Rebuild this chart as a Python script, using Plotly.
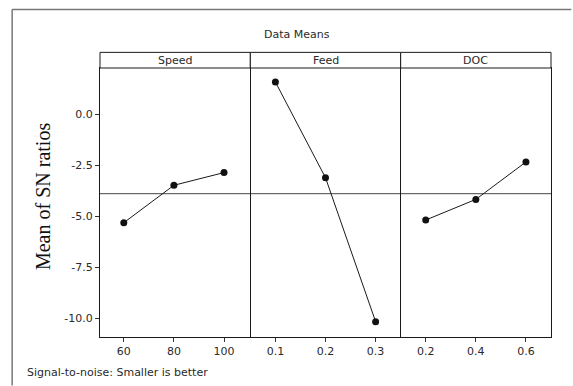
import numpy as np
import plotly.graph_objects as go
from plotly.subplots import make_subplots

factors = ["Speed", "Feed", "DOC"]
speed_levels = [60, 80, 100]
speed_sn = [-5.31, -3.48, -2.86]
feed_levels = [0.1, 0.2, 0.3]
feed_sn = [1.57, -3.11, -10.15]
doc_levels = [0.2, 0.4, 0.6]
doc_sn = [-5.18, -4.17, -2.34]

y_tickvals = [0.0, -2.5, -5.0, -7.5, -10.0]
y_ticktext = ["0.0", "-2.5", "-5.0", "-7.5", "-10.0"]
x_ticktext = [["60", "80", "100"], ["0.1", "0.2", "0.3"], ["0.2", "0.4", "0.6"]]
x_ranges = [[50.5, 110.5], [0.05, 0.35], [0.1, 0.7]]

levels = [speed_levels, feed_levels, doc_levels]
values = [speed_sn, feed_sn, doc_sn]
grand_mean = float(np.mean(speed_sn + feed_sn + doc_sn))

FONT = "DejaVu Sans"
TXT = "#2a2a2a"
LINE = "#1a1a1a"

fig = make_subplots(rows=1, cols=3, shared_yaxes=True, horizontal_spacing=0)

for i in range(3):
    fig.add_trace(go.Scatter(
        x=levels[i], y=values[i], mode="lines+markers",
        line=dict(color="#1a1a1a", width=1),
        marker=dict(color="#111111", size=7),
        showlegend=False, hoverinfo="skip"), row=1, col=i + 1)
    fig.update_xaxes(range=x_ranges[i], tickvals=levels[i], ticktext=x_ticktext[i],
                     showline=True, mirror=True, linecolor=LINE, linewidth=1,
                     ticks="outside", ticklen=4, tickcolor="#333", showgrid=False,
                     zeroline=False, tickfont=dict(family=FONT, size=11, color=TXT),
                     row=1, col=i + 1)
    # reference line (grand mean)
    fig.add_shape(type="line", xref=f"x{'' if i == 0 else i + 1} domain",
                  yref="y", x0=0, x1=1, y0=grand_mean, y1=grand_mean,
                  line=dict(color="#444444", width=1), layer="below")

fig.update_yaxes(range=[-10.9, 2.255], tickvals=y_tickvals, ticktext=y_ticktext,
                 showgrid=False, zeroline=False)
fig.update_yaxes(showline=True, mirror=True, linecolor=LINE, linewidth=1,
                 ticks="outside", ticklen=4, tickcolor="#333",
                 tickfont=dict(family=FONT, size=11, color=TXT), row=1, col=1)
fig.update_yaxes(showline=False, row=1, col=2)
fig.update_yaxes(showline=True, mirror=True, linecolor=LINE, linewidth=1, row=1, col=3)

# strips
strip_h = 15.6 / 268.4
for i, name in enumerate(factors):
    x0, x1 = i / 3, (i + 1) / 3
    fig.add_shape(type="rect", xref="paper", yref="paper", x0=x0, x1=x1,
                  y0=1, y1=1 + strip_h, line=dict(color=LINE, width=1),
                  fillcolor="white")
    fig.add_annotation(text=name, xref="paper", yref="paper", x=(x0 + x1) / 2,
                       y=1 + strip_h / 2, showarrow=False, xanchor="center",
                       yanchor="middle", font=dict(family=FONT, size=11, color=TXT))

# outer border (only left and top edges fall inside the picture)
bx, by = -0.1948, 1.2172
fig.add_shape(type="line", xref="paper", yref="paper", x0=bx, x1=bx, y0=-0.18, y1=by,
              line=dict(color="#777777", width=1.5))
fig.add_shape(type="line", xref="paper", yref="paper", x0=bx, x1=1.045, y0=by, y1=by,
              line=dict(color="#777777", width=1.5))

fig.add_annotation(text="Data Means", xref="paper", yref="paper", x=0.4364, y=1.124,
                   showarrow=False, xanchor="center", yanchor="middle",
                   font=dict(family=FONT, size=11, color=TXT))
fig.add_annotation(text="Mean of SN ratios", xref="paper", yref="paper", x=-0.1264,
                   y=0.524, textangle=-90, showarrow=False, xanchor="center",
                   yanchor="middle",
                   font=dict(family="Liberation Serif", size=20, color="#111"))
fig.add_annotation(text="Signal-to-noise: Smaller is better", xref="paper", yref="paper",
                   x=(25 - 100.3) / 450.7, y=-0.1315, showarrow=False, xanchor="left",
                   yanchor="middle", font=dict(family=FONT, size=11, color=TXT))

fig.update_layout(width=573, height=386, margin=dict(l=100, r=22, t=68, b=49),
                  paper_bgcolor="white", plot_bgcolor="white")

fig.write_html("out.html",
               post_script="document.body.style.margin='0';"
                           "document.body.style.overflow='hidden';"
                           "document.documentElement.style.overflow='hidden';")
